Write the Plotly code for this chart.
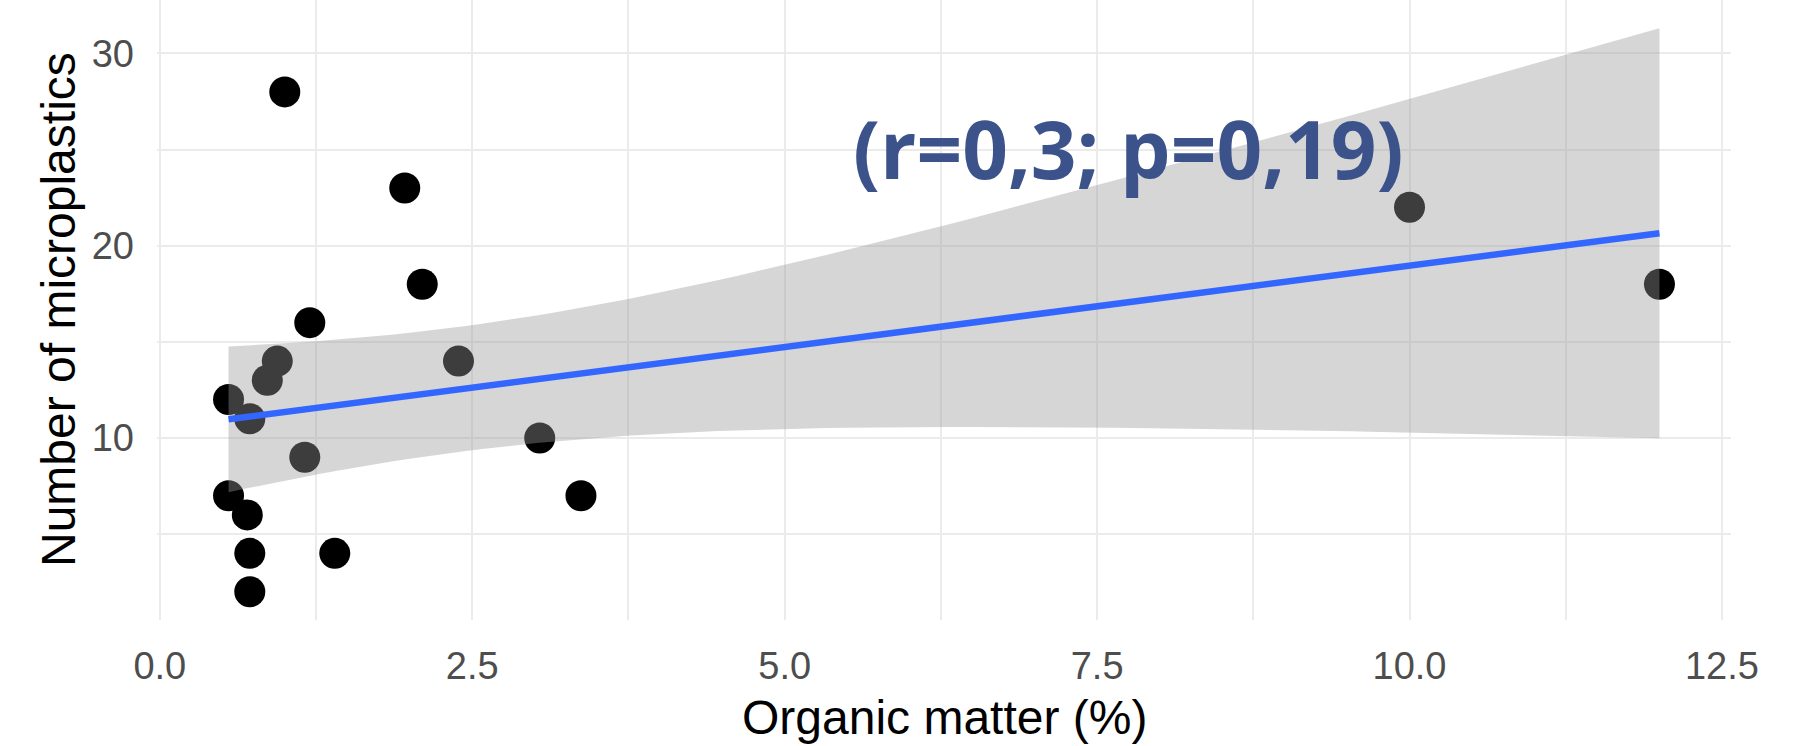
import numpy as np
import plotly.graph_objects as go

# Data
organic_matter = [1.0, 1.96, 2.1, 1.2, 0.94, 0.86, 0.55, 0.72, 2.39, 1.16,
                  3.04, 0.55, 0.70, 3.37, 0.72, 1.40, 0.72, 10.0, 12.0]
microplastics = [28, 23, 18, 16, 14, 13, 12, 11, 14, 9,
                 10, 7, 6, 7, 4, 4, 2, 22, 18]

x_tick_vals = [0, 1.25, 2.5, 3.75, 5, 6.25, 7.5, 8.75, 10, 11.25, 12.5]
x_tick_text = ["0.0", "", "2.5", "", "5.0", "", "7.5", "", "10.0", "", "12.5"]
y_tick_vals = [5, 10, 15, 20, 25, 30]
y_tick_text = ["", "10", "", "20", "", "30"]

annotation_text = "(r=0,3; p=0,19)"
annotation_x = 7.75
annotation_y = 25.1

# Linear model + 95% confidence band (like geom_smooth(method="lm"))
x = np.array(organic_matter, dtype=float)
y = np.array(microplastics, dtype=float)
n = len(x)
xm, ym = x.mean(), y.mean()
sxx = ((x - xm) ** 2).sum()
slope = ((x - xm) * (y - ym)).sum() / sxx
intercept = ym - slope * xm
resid = y - (intercept + slope * x)
s = np.sqrt((resid ** 2).sum() / (n - 2))
t_crit = 2.109816  # t(0.975, df=17)
xs = np.linspace(x.min(), x.max(), 80)
fit = intercept + slope * xs
se = s * np.sqrt(1.0 / n + (xs - xm) ** 2 / sxx)
lo = fit - t_crit * se
hi = fit + t_crit * se

# ggplot-like expanded ranges
xmin, xmax = x.min(), x.max()
xr = [xmin - 0.05 * (xmax - xmin), xmax + 0.05 * (xmax - xmin)]
ymin = min(y.min(), lo.min())
ymax = max(y.max(), hi.max())
yr = [ymin - 0.05 * (ymax - ymin), ymax + 0.05 * (ymax - ymin)]

fig = go.Figure()
fig.add_trace(go.Scatter(x=organic_matter, y=microplastics, mode="markers",
                         marker=dict(size=31, color="black", line=dict(width=0)),
                         showlegend=False, hoverinfo="skip"))
fig.add_trace(go.Scatter(x=np.concatenate([xs, xs[::-1]]),
                         y=np.concatenate([hi, lo[::-1]]),
                         fill="toself", fillcolor="rgba(153,153,153,0.4)",
                         line=dict(width=0), mode="lines",
                         showlegend=False, hoverinfo="skip"))
fig.add_trace(go.Scatter(x=xs, y=fit, mode="lines",
                         line=dict(color="#3366FF", width=6.5),
                         showlegend=False, hoverinfo="skip"))

tick_font = dict(family="Liberation Sans, Arial, sans-serif", size=38, color="#4D4D4D")
title_font = dict(family="Liberation Sans, Arial, sans-serif", size=48, color="black")

fig.update_layout(
    width=1814, height=746,
    margin=dict(l=157, r=83, t=0, b=126),
    paper_bgcolor="white", plot_bgcolor="white",
    xaxis=dict(range=xr, tickvals=x_tick_vals, ticktext=x_tick_text,
               showgrid=True, gridcolor="#EBEBEB", gridwidth=2,
               zeroline=False, showline=False, ticks="",
               tickfont=tick_font, ticklabelstandoff=20),
    yaxis=dict(range=yr, tickvals=y_tick_vals, ticktext=y_tick_text,
               showgrid=True, gridcolor="#EBEBEB", gridwidth=2,
               zeroline=False, showline=False, ticks="",
               tickfont=tick_font, ticklabelstandoff=22),
    annotations=[
        dict(text=annotation_text, x=annotation_x, y=annotation_y,
             xref="x", yref="y", showarrow=False,
             xanchor="center", yanchor="middle",
             font=dict(family="Open Sans", size=80, color="#3B528B", weight=700)),
        dict(text="Organic matter (%)", x=0.5, y=0, xref="paper", yref="paper",
             showarrow=False, xanchor="center", yanchor="middle", yshift=-97,
             font=title_font),
        dict(text="Number of microplastics", x=0, y=0.5, xref="paper", yref="paper",
             showarrow=False, xanchor="center", yanchor="middle", xshift=-99,
             textangle=-90, font=title_font),
    ],
)

fig.write_html("out.html")
